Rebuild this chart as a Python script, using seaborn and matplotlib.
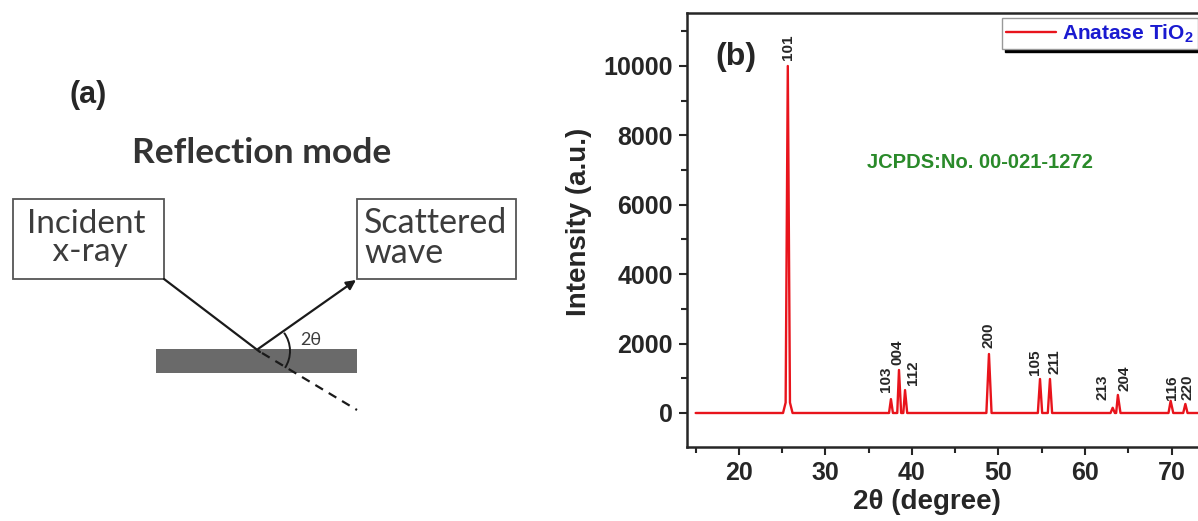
import numpy as np
import pandas as pd
import seaborn as sns
import matplotlib.pyplot as plt
from matplotlib.patches import Rectangle, Arc
from matplotlib.ticker import MultipleLocator

# XRD trace of anatase TiO2 (2theta in degree, intensity in a.u.)
two_theta = [15.0, 25.1, 25.4, 25.65, 25.9, 26.2,
             37.35, 37.57, 37.8, 38.3, 38.5, 38.75, 39.0, 39.2, 39.45,
             48.6, 48.9, 49.2, 54.55, 54.8, 55.05, 55.7, 55.95, 56.2,
             62.95, 63.2, 63.45, 63.6, 63.8, 64.1, 69.65, 69.9, 70.2,
             71.35, 71.6, 71.85, 75.0]
intensity = [0, 0, 300, 10000, 300, 0,
             0, 400, 0, 0, 1240, 0, 0, 660, 0,
             0, 1700, 0, 0, 980, 0, 0, 980, 0,
             0, 150, 0, 0, 520, 0, 0, 350, 0,
             0, 260, 0, 0]

# hkl labels and where they sit
hkl = ["101", "103", "004", "112", "200", "105", "211", "213", "204", "116", "220"]
hkl_x = [25.7, 37.0, 38.3, 40.1, 48.8, 54.2, 56.5, 62.0, 64.6, 70.1, 71.9]
hkl_y = [10170, 600, 1380, 800, 1870, 1090, 1120, 380, 630, 380, 380]

x_ticks = [20, 30, 40, 50, 60, 70]
y_ticks = [0, 2000, 4000, 6000, 8000, 10000]

sns.set_style("ticks")
plt.rcParams['font.family'] = ['Liberation Sans', 'DejaVu Sans']
plt.rcParams['mathtext.fontset'] = 'custom'
plt.rcParams['mathtext.bf'] = 'Liberation Sans:bold'
plt.rcParams['mathtext.rm'] = 'Liberation Sans:bold'

fig = plt.figure(figsize=(11.98, 5.21), dpi=100)

# ---------- (a) reflection mode sketch, drawn in pixel units ----------
axa = fig.add_axes([0, 0, 0.5, 1])
axa.set_xlim(0, 599)
axa.set_ylim(521, 0)
axa.axis("off")

sketch_font = ['Lato', 'DejaVu Sans']
grey = "#3c3c3c"
axa.text(88, 95, "(a)", fontsize=22, fontweight="bold", ha="center", va="center")
axa.text(262, 153, "Reflection mode", fontsize=25.5, fontweight="bold", color="#333333",
         family=sketch_font, ha="center", va="center")

axa.add_patch(Rectangle((13, 199), 151, 80, fill=False, ec="#555555", lw=1.3))
axa.add_patch(Rectangle((357, 199), 159, 80, fill=False, ec="#555555", lw=1.3))
axa.text(86, 238, "Incident\n x-ray", fontsize=24, color=grey, family=sketch_font,
         ha="center", va="center", linespacing=0.95)
axa.text(364, 238, "Scattered\nwave", fontsize=24.5, color=grey, family=sketch_font,
         ha="left", va="center", linespacing=0.95)

axa.add_patch(Rectangle((156, 349), 201, 24, color="#6a6a6a", lw=0))
axa.plot([164, 260], [279, 352], color="#1a1a1a", lw=1.6)
axa.plot([262, 357], [353, 410], color="#1a1a1a", lw=1.6, ls=(0, (4, 3)))
axa.annotate("", xy=(356, 280), xytext=(258, 349),
             arrowprops=dict(arrowstyle="-|>", color="#1a1a1a", lw=1.6,
                             mutation_scale=14, shrinkA=0, shrinkB=0))
axa.add_patch(Arc((259, 351), 62, 62, theta1=-36, theta2=33, color="#1a1a1a", lw=1.4))
axa.text(311, 340, "2θ", fontsize=13, color=grey, family=sketch_font,
         ha="center", va="center")

# ---------- (b) XRD pattern ----------
ax = fig.add_axes([687 / 1198, 74 / 521, 511 / 1198, 434 / 521])
df = pd.DataFrame({"two_theta": two_theta, "intensity": intensity})
sns.lineplot(data=df, x="two_theta", y="intensity", ax=ax, color="#e8141c", lw=1.7,
             label=r"Anatase TiO$_\mathbf{2}$", sort=False)

ax.set_xlim(14.0, 73.06)
ax.set_ylim(-980, 11527)
ax.set_xticks(x_ticks)
ax.set_yticks(y_ticks)
ax.xaxis.set_minor_locator(MultipleLocator(5))
ax.yaxis.set_minor_locator(MultipleLocator(1000))
ax.tick_params(which="major", length=6, width=1.5, labelsize=18, pad=4)
ax.tick_params(which="minor", length=4, width=1.5)
for lab in ax.get_xticklabels() + ax.get_yticklabels():
    lab.set_fontweight("bold")
ax.spines["right"].set_visible(False)
for s in ["left", "bottom", "top"]:
    ax.spines[s].set_linewidth(1.8)

ax.set_xlabel("2θ (degree)", fontsize=20, fontweight="bold")
ax.set_ylabel("Intensity (a.u.)", fontsize=20, fontweight="bold")
ax.xaxis.set_label_coords((927 - 687) / 511, -42 / 434)
ax.yaxis.set_label_coords(-95 / 511, (447 - 222) / 434)

for lbl, x, y in zip(hkl, hkl_x, hkl_y):
    ax.text(x, y, lbl, rotation=90, fontsize=11, fontweight="bold",
            ha="center", va="bottom")

fig.text(715 / 1198, 1 - 57 / 521, "(b)", fontsize=23, fontweight="bold",
         ha="left", va="center")
fig.text(980 / 1198, 1 - 163 / 521, "JCPDS:No. 00-021-1272", fontsize=14.5,
         fontweight="bold", color="#2a8a2a", ha="center", va="center")

leg = ax.legend(loc="upper left", bbox_to_anchor=(1002 / 1198, 1 - 18 / 521),
                bbox_transform=fig.transFigure, fontsize=15, frameon=True,
                fancybox=False, shadow={"color": "black", "alpha": 1},
                handlelength=2.4, borderpad=0.2, handletextpad=0.3,
                borderaxespad=0)
leg.get_frame().set_edgecolor("#999999")
leg.get_frame().set_linewidth(1.0)
for t in leg.get_texts():
    t.set_color("#1a1ad0")
    t.set_fontweight("bold")

fig.savefig("out.png", dpi=100)
